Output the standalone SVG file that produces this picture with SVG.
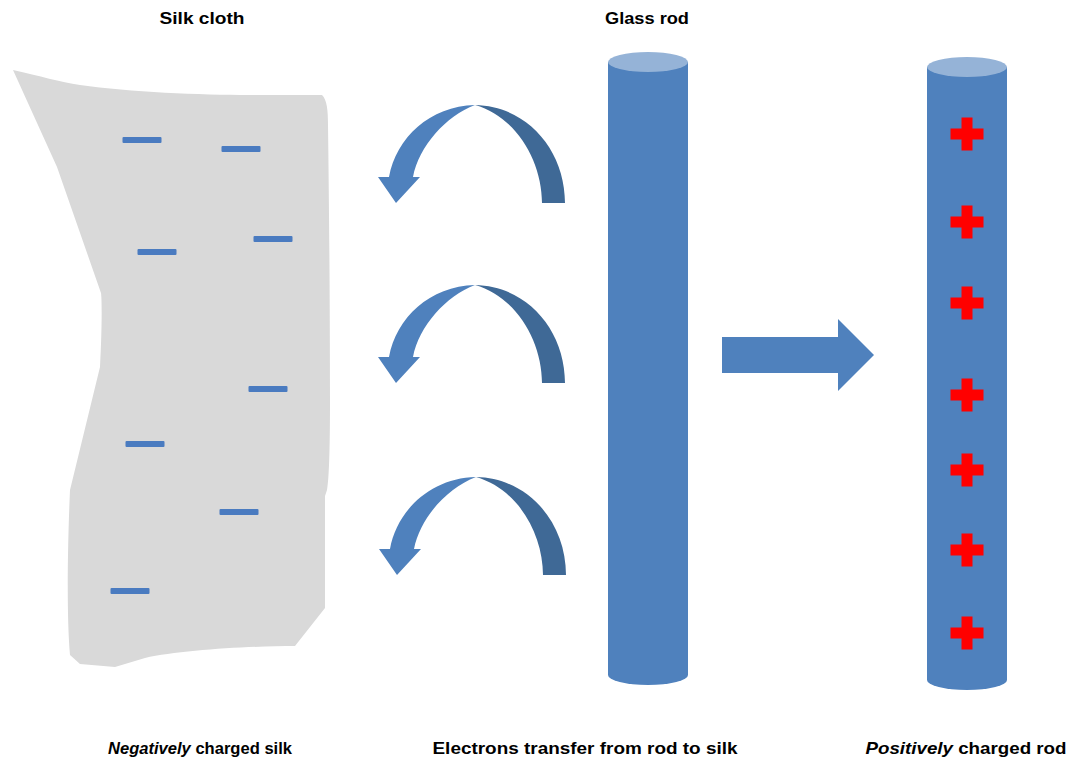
<svg xmlns="http://www.w3.org/2000/svg" width="1070" height="762" viewBox="0 0 1070 762">
  <style>
    .label { font-family: "Liberation Sans", Arial, sans-serif; font-weight: bold; font-size: 17px; fill: #000; }
    .minus { fill: #4a7bc0; }
    .plus { fill: #ff0000; }
    .rod { fill: #4f81bd; }
    .rodtop { fill: #95b3d7; }
    .light { fill: #4f81bd; }
    .dark { fill: #3f6996; }
  </style>
  <defs>
    <rect id="minus" class="minus" x="-19.5" y="-3" width="39" height="6" rx="1"/>
    <path id="plus" class="plus" d="M-5.5,-16.5 h11 v11 h11 v11 h-11 v11 h-11 v-11 h-11 v-11 h11 z"/>
    <!-- curved transfer arrow: light front face with head, dark back face -->
    <g id="curl">
      <path class="dark" d="M475,105 C527,106 565,150 565,203 L542,203 C542,162 517,117 475,105 Z"/>
      <path class="light" d="M475,105 C430,106 396,138 389,177 L378,177 L396,203 L420,177 L413,177 C419,146 446,116 475,105 Z"/>
    </g>
  </defs>

  <!-- titles -->
  <text class="label" x="202" y="24" text-anchor="middle" textLength="85" lengthAdjust="spacingAndGlyphs">Silk cloth</text>
  <text class="label" x="647" y="24" text-anchor="middle" textLength="84" lengthAdjust="spacingAndGlyphs">Glass rod</text>

  <!-- silk cloth -->
  <g id="silk">
    <path fill="#d9d9d9" d="M13,70 C40,76 60,82 80,85 C130,92 200,95 250,95 L322,95 C327,100 328,110 328,125 C329,200 330,300 330,400 C330,450 329,480 327,490 L325,496 L325,608 L295,646 C250,646 180,650 145,658 L115,667 L80,664 L70,655 C67,620 67,560 70,490 L100,367 C102,330 102,300 101,293 L57,167 Z"/>
    <use href="#minus" x="142" y="140"/>
    <use href="#minus" x="241" y="149"/>
    <use href="#minus" x="273" y="239"/>
    <use href="#minus" x="157" y="252"/>
    <use href="#minus" x="268" y="389"/>
    <use href="#minus" x="145" y="444"/>
    <use href="#minus" x="239" y="512"/>
    <use href="#minus" x="130" y="591"/>
  </g>

  <!-- electron transfer arrows -->
  <g id="connectors">
    <use href="#curl"/>
    <use href="#curl" y="180"/>
    <use href="#curl" x="1" y="372"/>
    <path id="arrow-right" class="light" d="M722,337 L838,337 L838,319 L874,355 L838,391 L838,373 L722,373 Z"/>
  </g>

  <!-- glass rod -->
  <g id="glass-rod">
    <path class="rod" d="M608,62 L688,62 L688,675 A40,10 0 0 1 608,675 Z"/>
    <ellipse class="rodtop" cx="648" cy="62" rx="40" ry="10"/>
  </g>

  <!-- positively charged rod -->
  <g id="charged-rod">
    <path class="rod" d="M927,67 L1007,67 L1007,680 A40,10 0 0 1 927,680 Z"/>
    <ellipse class="rodtop" cx="967" cy="67" rx="40" ry="10"/>
    <use href="#plus" x="967" y="134"/>
    <use href="#plus" x="967" y="222"/>
    <use href="#plus" x="967" y="303"/>
    <use href="#plus" x="967" y="395"/>
    <use href="#plus" x="967" y="470"/>
    <use href="#plus" x="967" y="550"/>
    <use href="#plus" x="967" y="633"/>
  </g>

  <!-- captions -->
  <text class="label" x="200" y="754" text-anchor="middle" textLength="184" lengthAdjust="spacingAndGlyphs"><tspan font-style="italic">Negatively</tspan> charged silk</text>
  <text class="label" x="585" y="754" text-anchor="middle" textLength="305" lengthAdjust="spacingAndGlyphs">Electrons transfer from rod to silk</text>
  <text class="label" x="966" y="754" text-anchor="middle" textLength="201" lengthAdjust="spacingAndGlyphs"><tspan font-style="italic">Positively</tspan> charged rod</text>
</svg>
